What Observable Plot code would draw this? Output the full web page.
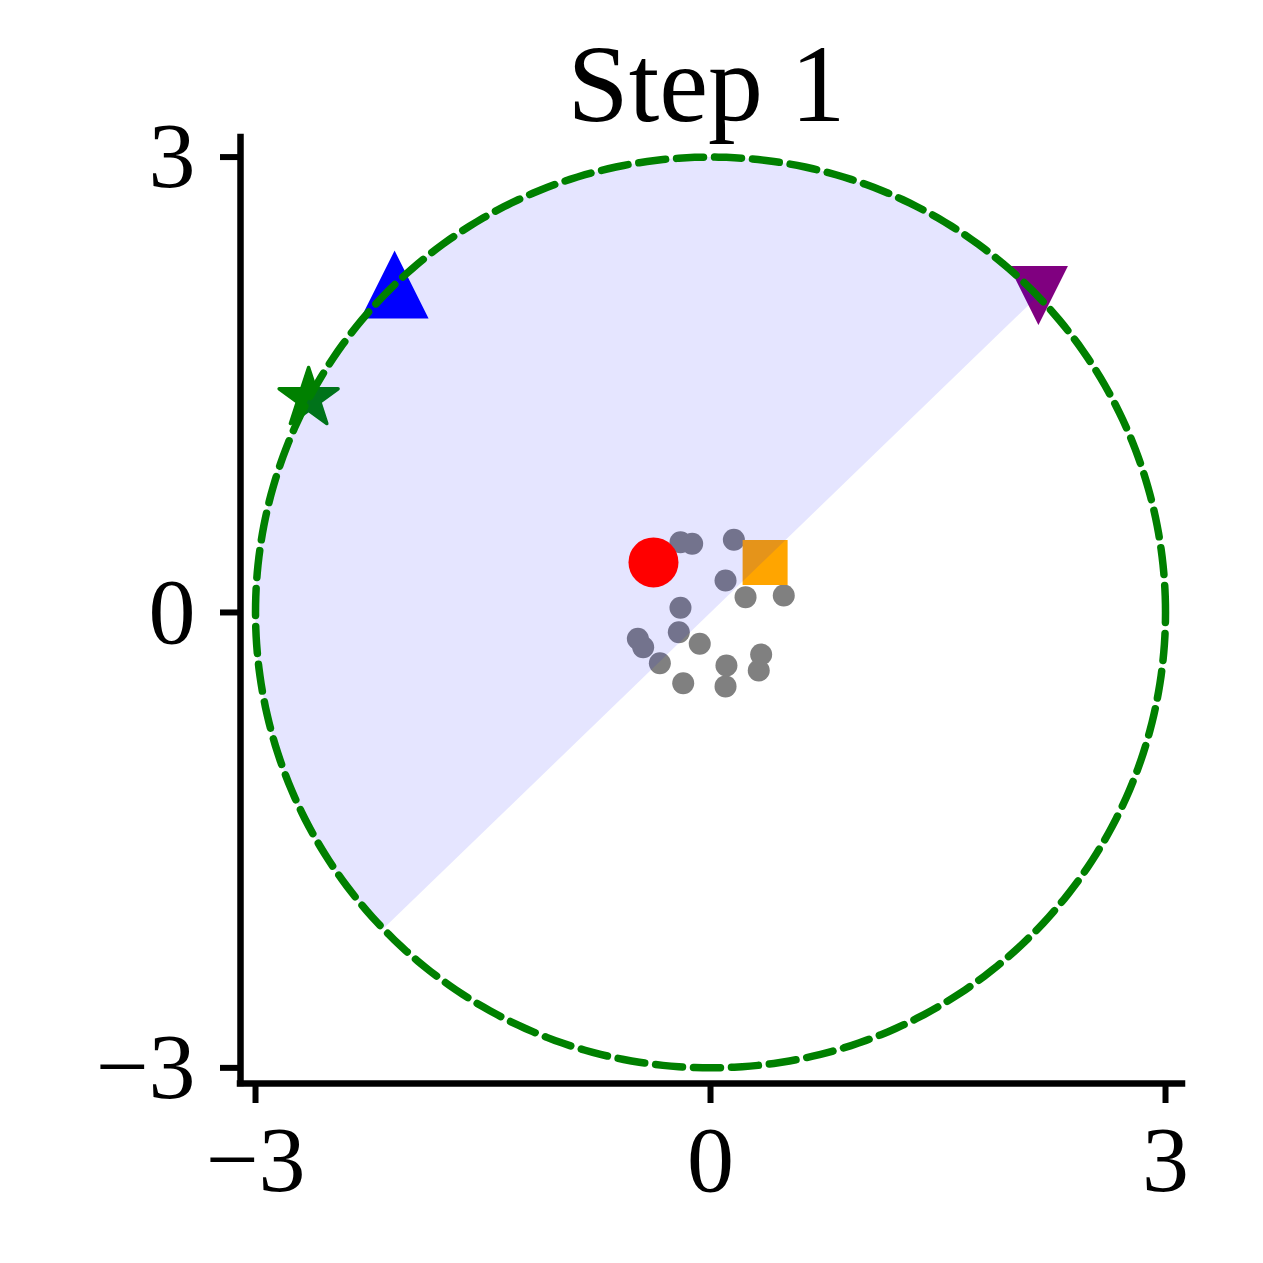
<!DOCTYPE html>
<html><head><meta charset="utf-8">
<script src="https://cdn.jsdelivr.net/npm/d3@7"></script>
<script src="https://cdn.jsdelivr.net/npm/@observablehq/plot@0.6"></script>
<style>body{margin:0;background:#fff}</style>
</head><body><div id="chart"></div>
<script>
const title = "Step 1";
const tickValues = [-3, 0, 3];
const xDomain = [-3.099, 3.112];
const yDomain = [-3.103, 3.129];
const circleRadius = 3;
const wedgeStartDeg = 44;
const wedgeSpanDeg = 180;

// gray point cloud
const cloudX = [-0.198, -0.121, 0.154, 0.099, 0.231, 0.483, -0.198, -0.209, -0.071, -0.479, -0.444, -0.334, -0.180, 0.105, 0.099, 0.334, 0.318];
const cloudY = [0.463, 0.453, 0.479, 0.211, 0.101, 0.112, 0.031, -0.130, -0.206, -0.173, -0.229, -0.334, -0.466, -0.349, -0.487, -0.277, -0.382];

// special markers
const markerNames = ["circle", "square", "triangleUp", "triangleDown", "star"];
const markerX = [-0.376, 0.36, -2.083, 2.162, -2.65];
const markerY = [0.33, 0.33, 2.16, 2.088, 1.41];

const cloud = cloudX.map((x, i) => ({x, y: cloudY[i]}));
const markers = markerNames.map((name, i) => ({name, x: markerX[i], y: markerY[i]}));
const pick = (n) => markers.filter(d => d.name === n);

const circlePts = d3.range(0, 361).map(a => ({x: circleRadius * Math.cos(a * Math.PI / 180), y: circleRadius * Math.sin(a * Math.PI / 180)}));
const wedgePts = [{x: 0, y: 0}, ...d3.range(0, wedgeSpanDeg + 1).map(k => {
  const a = (wedgeStartDeg + k) * Math.PI / 180;
  return {x: circleRadius * Math.cos(a), y: circleRadius * Math.sin(a)};
}), {x: 0, y: 0}];

const sym = (fn) => ({draw(ctx, size) { fn(ctx, Math.sqrt(size / Math.PI)); }});
const squareSym = sym((c, r) => { c.moveTo(-r, -r); c.lineTo(r, -r); c.lineTo(r, r); c.lineTo(-r, r); c.closePath(); });
const triUpSym = sym((c, r) => { c.moveTo(0, -r); c.lineTo(r, r); c.lineTo(-r, r); c.closePath(); });
const triDownSym = sym((c, r) => { c.moveTo(0, r); c.lineTo(r, -r); c.lineTo(-r, -r); c.closePath(); });
const starSym = sym((c, r) => {
  const ri = r * 0.381966;
  for (let k = 0; k < 10; k++) {
    const rr = k % 2 ? ri : r;
    const a = -Math.PI / 2 + k * Math.PI / 5;
    const px = rr * Math.cos(a), py = rr * Math.sin(a);
    if (k === 0) c.moveTo(px, py); else c.lineTo(px, py);
  }
  c.closePath();
});

const fmt = d => d < 0 ? "\u2212" + (-d) : String(d);
const font = "'Liberation Serif', 'DejaVu Serif', serif";

const plot = Plot.plot({
  width: 1263, height: 1263,
  marginLeft: 240, marginRight: 81, marginTop: 137, marginBottom: 180,
  style: {background: "white", color: "black"},
  x: {domain: xDomain},
  y: {domain: yDomain},
  marks: [
    Plot.dot(cloud, {x: "x", y: "y", r: 11, fill: "gray", stroke: "none"}),
    Plot.dot(pick("square"), {x: "x", y: "y", r: 22.5, fill: "orange", symbol: squareSym}),
    Plot.dot(pick("triangleUp"), {x: "x", y: "y", r: 34, fill: "blue", symbol: triUpSym}),
    Plot.dot(pick("triangleDown"), {x: "x", y: "y", r: 29.5, fill: "purple", symbol: triDownSym}),
    Plot.dot(pick("star"), {x: "x", y: "y", r: 31, fill: "green", stroke: "green", strokeWidth: 3.5, strokeLinejoin: "round", symbol: starSym}),
    Plot.line(wedgePts, {x: "x", y: "y", fill: "blue", fillOpacity: 0.1, stroke: "blue", strokeOpacity: 0}),
    Plot.dot(pick("circle"), {x: "x", y: "y", r: 25, fill: "red", symbol: "circle"}),
    Plot.line(circlePts, {x: "x", y: "y", stroke: "green", strokeWidth: 7.5, strokeDasharray: "27,11"}),
    Plot.ruleX([xDomain[0]], {y1: yDomain[0], y2: yDomain[1], strokeWidth: 6.5, strokeLinecap: "square"}),
    Plot.ruleY([yDomain[0]], {x1: xDomain[0], x2: xDomain[1], strokeWidth: 6.5, strokeLinecap: "square"}),
    Plot.axisX(tickValues, {tickSize: 20, tickPadding: 21, fontSize: 94, strokeWidth: 6, tickFormat: fmt, fontFamily: font, fill: "black", label: null}),
    Plot.axisY(tickValues, {tickSize: 20, tickPadding: 25, fontSize: 94, strokeWidth: 6, tickFormat: fmt, fontFamily: font, fill: "black", label: null}),
    Plot.text([title], {frameAnchor: "top", lineAnchor: "middle", dy: -52, dx: -5, fontSize: 110, fontFamily: font, fill: "black"})
  ]
});
document.getElementById("chart").appendChild(plot);
</script>
</body></html>
